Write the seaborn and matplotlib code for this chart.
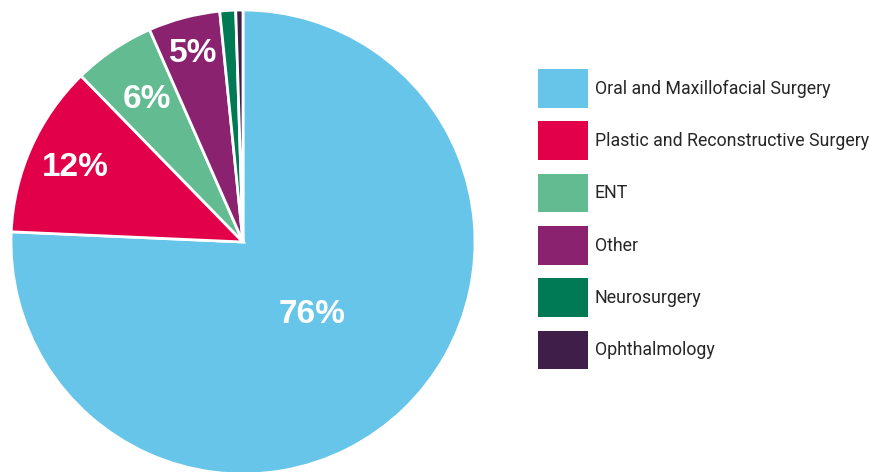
import matplotlib
matplotlib.use("Agg")
import matplotlib.pyplot as plt
from matplotlib.patches import Patch
import seaborn as sns
import numpy as np

specialties = [
    "Oral and Maxillofacial Surgery",
    "Plastic and Reconstructive Surgery",
    "ENT",
    "Other",
    "Neurosurgery",
    "Ophthalmology",
]
shares = [75.7, 12.0, 5.7, 5.0, 1.1, 0.5]
pct_labels = ["76%", "12%", "6%", "5%", "", ""]
hex_colors = ["#66C5E8", "#E2004A", "#63BB91", "#8B2270", "#007A55", "#3F1E49"]

sns.set_theme(style="white")
plt.rcParams["font.family"] = ["Roboto", "DejaVu Sans"]
palette = sns.color_palette(hex_colors)

W, H = 882, 472
fig = plt.figure(figsize=(W / 100, H / 100), dpi=100)
cx, cy, r = 243, 242, 232
ax = fig.add_axes([(cx - r) / W, (H - cy - r) / H, 2 * r / W, 2 * r / H])

wedges, _ = ax.pie(
    shares, colors=palette, startangle=90, counterclock=False, radius=1,
    wedgeprops={"edgecolor": "white", "linewidth": 2},
)
ax.set_xlim(-1, 1)
ax.set_ylim(-1, 1)
ax.set_aspect("equal")

# label distance from centre, per slice
dists = [0.43, 0.79, 0.74, 0.84, 0, 0]
for w, lab, d in zip(wedges, pct_labels, dists):
    if not lab:
        continue
    ang = np.deg2rad((w.theta1 + w.theta2) / 2)
    ax.text(d * np.cos(ang), d * np.sin(ang), lab, color="white", fontsize=24,
            fontweight="bold", ha="center", va="center",
            family=["Liberation Sans", "DejaVu Sans"])

handles = [Patch(facecolor=c, edgecolor="none", label=s) for c, s in zip(palette, specialties)]
fs = 12.8
fig.legend(
    handles=handles, loc="upper left", bbox_to_anchor=(538 / W, 1 - 69 / H),
    frameon=False, fontsize=fs, borderpad=0, borderaxespad=0,
    handlelength=2.81, handleheight=2.97, labelspacing=0.77, handletextpad=0.39,
)

fig.savefig("out.png", dpi=100)
